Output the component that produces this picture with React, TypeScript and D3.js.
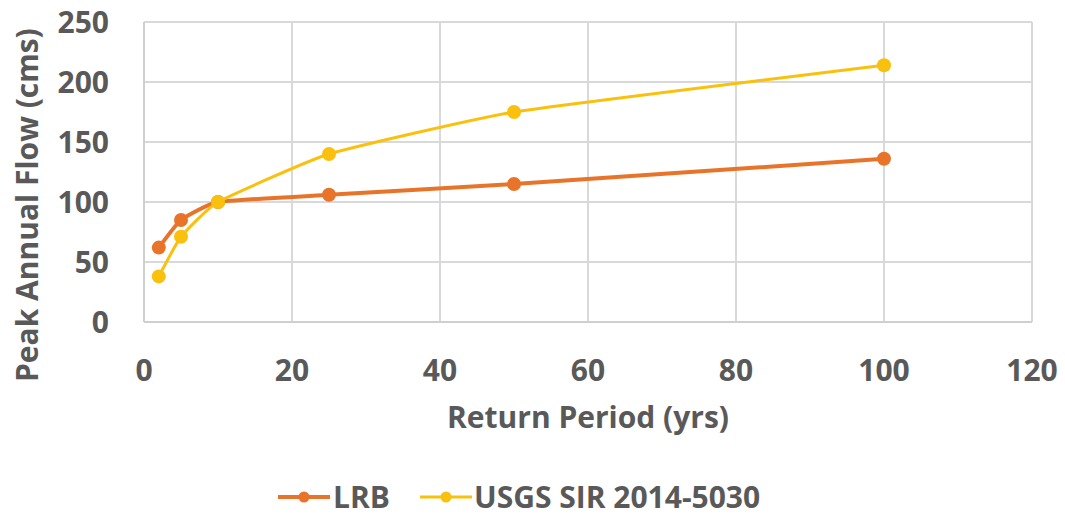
import React from "react";
import * as d3 from "d3";

const returnPeriods = [2, 5, 10, 25, 50, 100];
const lrbValues = [62, 85, 100, 106, 115, 136];
const usgsValues = [38, 71, 100, 140, 175, 214];
const xTicks = [0, 20, 40, 60, 80, 100, 120];
const yTicks = [0, 50, 100, 150, 200, 250];
const seriesNames = ["LRB", "USGS SIR 2014-5030"];
const seriesColors = ["#E8742A", "#F9C10E"];

const W = 1065;
const H = 518;
const FONT = "'Open Sans', sans-serif";
const TEXT = "#595959";
const FS = 30;

export default function App() {
  const x = d3.scaleLinear().domain([0, 120]).range([144, 1032]);
  const y = d3.scaleLinear().domain([0, 250]).range([322, 22]);
  const line = d3
    .line<[number, number]>()
    .x((d) => x(d[0]))
    .y((d) => y(d[1]))
    .curve(d3.curveCardinal.tension(0.6));
  const series = [lrbValues, usgsValues].map((vals, i) => ({
    name: seriesNames[i],
    color: seriesColors[i],
    pts: returnPeriods.map((p, j) => [p, vals[j]] as [number, number]),
    width: i === 0 ? 4 : 3,
  }));
  const legendItems = [
    { lx: 278, tx: 333 },
    { lx: 420, tx: 474 },
  ];
  return (
    <svg
      width={W}
      height={H}
      style={{ position: "absolute", left: 0, top: 0, background: "#fff" }}
      fontFamily={FONT}
    >
      {yTicks.map((t) => (
        <line key={"gy" + t} x1={x(0)} x2={x(120)} y1={y(t)} y2={y(t)} stroke="#d9d9d9" strokeWidth={2} />
      ))}
      {xTicks.map((t) => (
        <line key={"gx" + t} x1={x(t)} x2={x(t)} y1={y(0)} y2={y(250)} stroke="#d9d9d9" strokeWidth={2} />
      ))}
      <line x1={x(0)} x2={x(120)} y1={y(0)} y2={y(0)} stroke="#cfcfcf" strokeWidth={2} />
      <line x1={x(0)} x2={x(0)} y1={y(0)} y2={y(250)} stroke="#cfcfcf" strokeWidth={2} />
      {yTicks.map((t) => (
        <text key={"ty" + t} x={109} y={y(t)} dy="0.36em" textAnchor="end" fontSize={FS} fontWeight={700} fill={TEXT}>
          {t}
        </text>
      ))}
      {xTicks.map((t) => (
        <text key={"tx" + t} x={x(t)} y={381} textAnchor="middle" fontSize={FS} fontWeight={700} fill={TEXT}>
          {t}
        </text>
      ))}
      <text x={588} y={428} textAnchor="middle" fontSize={FS} fontWeight={700} fill={TEXT}>
        Return Period (yrs)
      </text>
      <text
        transform={`translate(38,382) rotate(-90)`}
        textAnchor="start"
        fontSize={FS}
        fontWeight={700}
        fill={TEXT}
      >
        Peak Annual Flow (cms)
      </text>
      {series.map((s) => (
        <g key={s.name}>
          <path d={line(s.pts) || ""} fill="none" stroke={s.color} strokeWidth={s.width} />
          {s.pts.map((p, j) => (
            <circle key={j} cx={x(p[0])} cy={y(p[1])} r={7} fill={s.color} />
          ))}
        </g>
      ))}
      {series.map((s, i) => (
        <g key={"lg" + s.name}>
          <line x1={legendItems[i].lx} x2={legendItems[i].lx + 52} y1={497} y2={497} stroke={s.color} strokeWidth={s.width} />
          <circle cx={legendItems[i].lx + 26} cy={497} r={5.5} fill={s.color} />
          <text x={legendItems[i].tx} y={497} dy="0.36em" fontSize={FS} fontWeight={700} fill={TEXT}>
            {s.name}
          </text>
        </g>
      ))}
    </svg>
  );
}
